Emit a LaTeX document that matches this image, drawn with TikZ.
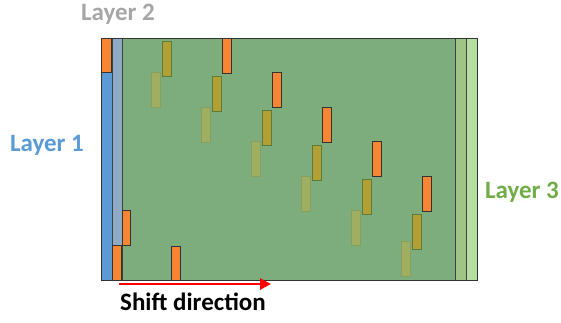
\documentclass[tikz,border=0pt]{standalone}
\usepackage{fontspec}
\setmainfont{Carlito}
\usepackage{xcolor}
\usetikzlibrary{arrows.meta}

\definecolor{layerone}{RGB}{91,155,213}
\definecolor{layertwo}{RGB}{143,170,196}
\definecolor{layerthree}{RGB}{112,173,71}
\definecolor{bulkgreen}{RGB}{125,173,125}
\definecolor{stripa}{RGB}{158,197,135}
\definecolor{stripb}{RGB}{182,222,160}
\definecolor{grainorange}{RGB}{247,133,52}
\definecolor{grainolive}{RGB}{178,160,52}
\definecolor{oliveedge}{RGB}{92,122,58}
\definecolor{grainfaded}{RGB}{160,174,98}
\definecolor{fadededge}{RGB}{135,160,95}
\definecolor{labelgrey}{RGB}{166,166,166}

\tikzset{
    grain/.style={fill=grainorange, draw=black!80, line width=1pt},
    oldgrain/.style={fill=grainolive, draw=oliveedge, line width=1pt},
    ghostgrain/.style={fill=grainfaded, draw=fadededge, line width=1pt},
    layerlabel/.style={font=\bfseries\fontsize{25}{28}\selectfont}
}

\begin{document}
\begin{tikzpicture}[x=1pt,y=-1pt]
    \useasboundingbox (0,0) rectangle (561,322);

    % layers
    \fill[bulkgreen] (122,38) rectangle (455,280);
    \fill[stripa] (455,38) rectangle (466,280);
    \fill[stripb] (466,38) rectangle (477,280);
    \fill[layerone] (101,38) rectangle (112,280);
    \fill[layertwo] (112,38) rectangle (122,245);
    \draw[black!75, line width=0.6pt] (455,38) -- (455,280);
    \draw[black!75, line width=0.6pt] (466,38) -- (466,280);
    \draw[black!75, line width=0.6pt] (112,38) -- (112,280);
    \draw[black!75, line width=0.6pt] (122,38) -- (122,280);

    % faded and olive grains
    \foreach \i/\yt in {0/72.7, 1/107, 2/141.5, 3/176, 4/210.5, 5/241}
        \draw[ghostgrain] ({151.5+50*\i},\yt) rectangle ++(9,35);
    \foreach \i in {0,...,5}
        \draw[oldgrain] ({162+50*\i},{41.7+34.5*\i}) rectangle ++(9,35);

    % orange grains
    \foreach \i in {0,...,4}
        \draw[grain] ({222.5+50*\i},{38+34.5*\i}) rectangle ++(9,35);
    \draw[grain] (101.5,38) rectangle (111.5,72.7);
    \draw[grain] (112.5,245.5) rectangle (121.5,280);
    \draw[grain] (122,210.7) rectangle (130.7,245.3);
    \draw[grain] (171.7,246.7) rectangle (180.7,280);

    % frame
    \draw[black!80, line width=1pt] (101,38) rectangle (477,280);

    % labels
    \node[layerlabel, text=layerone] (labelone) at (47,145) {Layer 1};
    \node[layerlabel, text=labelgrey] (labeltwo) at (118,14) {Layer 2};
    \node[layerlabel, text=layerthree] (labelthree) at (522,192) {Layer 3};
    \node[layerlabel, text=black] (shiftlabel) at (193,302) {Shift direction};

    \coordinate (shiftstart) at (119,284);
    \coordinate (shiftend) at (271,284);
    \draw[red, line width=2.8pt, -{Triangle[length=11pt,width=11pt]}] (shiftstart) -- (shiftend);
\end{tikzpicture}
\end{document}
